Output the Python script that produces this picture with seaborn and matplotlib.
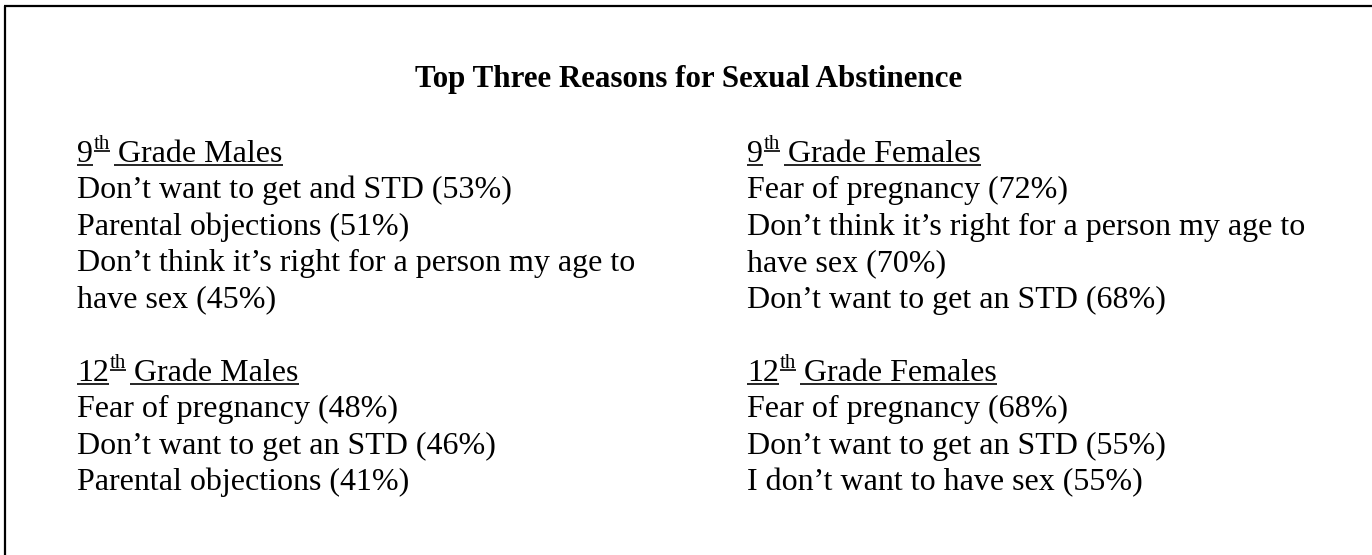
import matplotlib
matplotlib.use('Agg')

import matplotlib.pyplot as plt
import seaborn as sns


# =========================================================
# DATA
# =========================================================

TITLE = "Top Three Reasons for Sexual Abstinence"

GRADES = ["9", "9", "12", "12"]
GROUPS = ["Grade Males", "Grade Females", "Grade Males", "Grade Females"]

REASONS = [
    [
        "Don\u2019t want to get and STD (53%)",
        "Parental objections (51%)",
        "Don\u2019t think it\u2019s right for a person my age to\nhave sex (45%)",
    ],
    [
        "Fear of pregnancy (72%)",
        "Don\u2019t think it\u2019s right for a person my age to\nhave sex (70%)",
        "Don\u2019t want to get an STD (68%)",
    ],
    [
        "Fear of pregnancy (48%)",
        "Don\u2019t want to get an STD (46%)",
        "Parental objections (41%)",
    ],
    [
        "Fear of pregnancy (68%)",
        "Don\u2019t want to get an STD (55%)",
        "I don\u2019t want to have sex (55%)",
    ],
]


# =========================================================
# SETTINGS
# =========================================================

W, H = 1372, 555
FS = 23
FS_TITLE = 22.3
FS_SUP = 15
LINE = 36.5

COL_X = [77, 747, 77, 747]
ROW_Y = [161.7, 161.7, 380.7, 380.7]

sns.set_theme(style="white")
plt.rcParams['font.family'] = ['Liberation Serif', 'DejaVu Serif']


# =========================================================
# FIGURE
# =========================================================

fig = plt.figure(figsize=(W / 100, H / 100), dpi=100)
fig.patch.set_facecolor('white')

ax = fig.add_axes([0, 0, 1, 1])
ax.set_xlim(0, W)
ax.set_ylim(H, 0)
ax.axis('off')

renderer = fig.canvas.get_renderer()


def width_of(t):
    bb = t.get_window_extent(renderer=renderer)
    return bb.width


def underline(x0, x1, y):
    ax.plot([x0, x1], [y, y], color='black', linewidth=1.2,
            solid_capstyle='butt')


# border (top and left only)
ax.plot([4, W], [6, 6], color='black', linewidth=1.6, solid_capstyle='butt')
ax.plot([5, 5], [6, H], color='black', linewidth=1.6, solid_capstyle='butt')

# title
ax.text(689, 87.5, TITLE, fontsize=FS_TITLE, fontweight='bold',
        ha='center', va='baseline', color='black')


# =========================================================
# GROUP BLOCKS
# =========================================================

for grade, group, reasons, x, y in zip(GRADES, GROUPS, REASONS, COL_X, ROW_Y):

    # header: number, superscript, rest (all underlined)
    t1 = ax.text(x, y, grade, fontsize=FS, ha='left', va='baseline',
                 color='black')
    w1 = width_of(t1)
    underline(x, x + w1, y + 3.5)

    xs = x + w1 + 1
    t2 = ax.text(xs, y - 13, "th", fontsize=FS_SUP, ha='left',
                 va='baseline', color='black')
    w2 = width_of(t2)
    underline(xs, xs + w2, y - 11)

    xr = xs + w2
    t3 = ax.text(xr, y, " " + group, fontsize=FS, ha='left',
                 va='baseline', color='black')
    w3 = width_of(t3)
    underline(xr + 4, xr + w3, y + 3.5)

    # reasons
    yy = y
    for reason in reasons:
        for part in reason.split("\n"):
            yy += LINE
            ax.text(x, yy, part, fontsize=FS, ha='left', va='baseline',
                    color='black')


plt.savefig('out.png', dpi=100, facecolor='white')
plt.close()
